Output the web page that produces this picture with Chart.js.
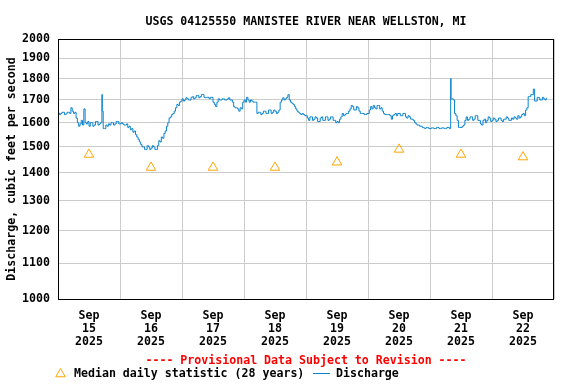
<!DOCTYPE html>
<html>
<head>
<meta charset="utf-8">
<script src="https://cdn.jsdelivr.net/npm/chart.js@4/dist/chart.umd.min.js"></script>
<style>
  html, body { margin: 0; padding: 0; background: #ffffff; }
  #wrap { width: 576px; height: 384px; }
</style>
</head>
<body>
<div id="wrap"><canvas id="c" width="576" height="384"></canvas></div>
<script>
// ---- data ----
const chartTitle = 'USGS 04125550 MANISTEE RIVER NEAR WELLSTON, MI';
const provisionalText = '---- Provisional Data Subject to Revision ----';
const yAxisTitle = 'Discharge, cubic feet per second';
const monthLabel = 'Sep';
const yearLabel = '2025';
const dayLabels = ['15', '16', '17', '18', '19', '20', '21', '22'];
const yTickValues = [1000, 1100, 1200, 1300, 1400, 1500, 1600, 1700, 1800, 1900, 2000];

// hours since Sep 15 00:00 for the daily medians (noon of each day)
const medianHours = [12, 36, 60, 84, 108, 132, 156, 180];
const medianValues = [1470, 1420, 1420, 1420, 1440, 1490, 1470, 1460];

// half-hourly discharge readings, index / 2 = hours since Sep 15 00:00
const dischargeHalfHourly = [
  1642,1635, 1640,1645, 1645,1635, 1638,1645, 1645,1640,            // 0-4
  1665,1650, 1640,1645, 1620,1600, 1585,1595, 1610,1590,            // 5-9
  1660,1600, 1595,1605, 1585,1600, 1600,1585, 1590,1605,            // 10-14
  1605,1590, 1595,1600, 1725,1575, 1575,1590, 1585,1595,            // 15-19
  1590,1600, 1600,1590, 1595,1605, 1605,1595, 1595,1600,            // 20-24
  1595,1590, 1590,1595, 1580,1585, 1570,1575, 1560,1565,            // 25-29
  1550,1540, 1530,1520, 1510,1500, 1500,1490, 1490,1505,            // 30-34
  1500,1490, 1495,1505, 1500,1490, 1490,1505, 1525,1520,            // 35-39
  1540,1535, 1555,1565, 1585,1600, 1620,1625, 1635,1640,            // 40-44
  1650,1665, 1680,1675, 1690,1695, 1705,1695, 1700,1710,            // 45-49
  1705,1700, 1700,1712, 1715,1705, 1710,1720, 1720,1710,            // 50-54
  1715,1725, 1725,1712, 1710,1712, 1712,1705, 1712,1712,            // 55-59
  1690,1680, 1670,1690, 1705,1700, 1700,1705, 1705,1700,            // 60-64
  1700,1705, 1710,1700, 1700,1690, 1670,1665, 1665,1660,            // 65-69
  1650,1665, 1660,1690, 1700,1690, 1712,1700, 1690,1700,            // 70-74
  1695,1690, 1690,1690, 1640,1645, 1645,1635, 1640,1650,            // 75-79
  1650,1640, 1640,1655, 1655,1640, 1645,1655, 1650,1640,            // 80-84
  1645,1655, 1690,1700, 1710,1700, 1705,1712, 1724,1700,            // 85-89
  1690,1685, 1680,1670, 1660,1650, 1645,1640, 1635,1640,            // 90-94
  1635,1630, 1630,1620, 1610,1625, 1625,1610, 1615,1625,            // 95-99
  1620,1605, 1605,1620, 1625,1610, 1610,1625, 1625,1610,            // 100-104
  1615,1625, 1625,1610, 1610,1600, 1605,1600, 1615,1625,            // 105-109
  1640,1630, 1635,1640, 1640,1650, 1660,1675, 1670,1655,            // 110-114
  1655,1670, 1665,1650, 1640,1640, 1640,1635, 1635,1640,            // 115-119
  1640,1655, 1670,1660, 1675,1665, 1660,1675, 1675,1660,            // 120-124
  1665,1650, 1640,1635, 1635,1635, 1635,1630, 1615,1630,            // 125-129
  1635,1640, 1630,1640, 1640,1630, 1630,1640, 1640,1625,            // 130-134
  1620,1630, 1625,1615, 1615,1610, 1600,1595, 1590,1590,            // 135-139
  1585,1585, 1580,1578, 1575,1580, 1580,1575, 1575,1578,            // 140-144
  1578,1575, 1575,1580, 1580,1575, 1575,1578, 1578,1575,            // 145-149
  1575,1580, 1580,1575, 1800,1705, 1700,1640, 1630,1610,            // 150-154
  1580,1580, 1580,1585, 1590,1610, 1625,1610, 1615,1625,            // 155-159
  1625,1610, 1615,1630, 1630,1610, 1610,1595, 1590,1610,            // 160-164
  1615,1600, 1610,1625, 1620,1605, 1610,1620, 1615,1605,            // 165-169
  1610,1620, 1620,1610, 1605,1615, 1615,1625, 1620,1610,            // 170-174
  1610,1620, 1615,1625, 1620,1615, 1630,1620, 1625,1635,            // 175-179
  1640,1630, 1655,1665, 1715,1715, 1724,1724, 1750,1695,            // 180-184
  1695,1712, 1710,1700, 1700,1712, 1705,1700, 1710                  // 185-189
];
// short-lived readings right after the two spikes
const spikeHours = [17.15, 152.15];
const spikeValues = [1650, 1705];

// ---- build tables ----
const dischargePoints = dischargeHalfHourly.map((v, i) => ({ x: i / 2, y: v }))
  .concat(spikeHours.map((h, i) => ({ x: h, y: spikeValues[i] })))
  .sort((a, b) => a.x - b.x);
const medianPoints = medianHours.map((h, i) => ({ x: h, y: medianValues[i] }));

const FONT_FAMILY = '"DejaVu Sans Mono", "Liberation Mono", monospace';
const FONT_SIZE = 11.6;
const BLUE = '#0b84ce';
const ORANGE = '#ffa500';
const GRID = '#cccccc';

const decorPlugin = {
  id: 'decor',
  afterDraw(chart) {
    const ctx = chart.ctx;
    const a = chart.chartArea;
    ctx.save();
    // frame
    ctx.strokeStyle = '#000000';
    ctx.lineWidth = 1;
    ctx.strokeRect(Math.round(a.left) + 0.5, Math.round(a.top) + 0.5,
                   Math.round(a.right - a.left) - 1, Math.round(a.bottom - a.top));
    const cx = (a.left + a.right) / 2;
    ctx.font = 'bold ' + FONT_SIZE + 'px ' + FONT_FAMILY;
    ctx.textBaseline = 'middle';
    // title
    ctx.fillStyle = '#000000';
    ctx.textAlign = 'center';
    ctx.fillText(chartTitle, cx, 22);
    // provisional
    ctx.fillStyle = '#ff0000';
    ctx.fillText(provisionalText, cx, 360.5);
    // legend
    const ly = 373.5;
    ctx.textAlign = 'left';
    ctx.fillStyle = '#000000';
    ctx.fillText(chart.data.datasets[1].label, 74, ly);
    ctx.fillText(chart.data.datasets[0].label, 336, ly);
    ctx.strokeStyle = BLUE;
    ctx.beginPath();
    ctx.moveTo(313, ly);
    ctx.lineTo(330, ly);
    ctx.stroke();
    // triangle
    const r = 5.5, tx = 60.5, ty = ly + 0.5;
    ctx.strokeStyle = ORANGE;
    ctx.beginPath();
    for (let k = 0; k < 3; k++) {
      const ang = k * 2 * Math.PI / 3;
      const px = tx + Math.sin(ang) * r, py = ty - Math.cos(ang) * r;
      if (k === 0) ctx.moveTo(px, py); else ctx.lineTo(px, py);
    }
    ctx.closePath();
    ctx.stroke();
    ctx.restore();
  }
};

new Chart(document.getElementById('c'), {
  type: 'line',
  data: {
    datasets: [
      {
        label: 'Discharge',
        data: dischargePoints,
        borderColor: BLUE,
        borderWidth: 1,
        pointRadius: 0,
        stepped: true,
        fill: false
      },
      {
        label: 'Median daily statistic (28 years)',
        data: medianPoints,
        showLine: false,
        pointStyle: 'triangle',
        pointRadius: 5.5,
        pointBorderWidth: 1,
        borderColor: ORANGE,
        backgroundColor: 'rgba(0,0,0,0)',
        pointBorderColor: ORANGE,
        pointBackgroundColor: 'rgba(0,0,0,0)'
      }
    ]
  },
  options: {
    responsive: false,
    animation: false,
    devicePixelRatio: 1,
    layout: { padding: { top: 39, right: 22, left: 0, bottom: 0 } },
    plugins: {
      legend: { display: false },
      title: { display: false },
      tooltip: { enabled: false }
    },
    scales: {
      x: {
        type: 'linear',
        min: 0,
        max: 192,
        afterBuildTicks: (s) => {
          const t = [];
          for (let v = 0; v <= 192; v += 12) t.push({ value: v });
          s.ticks = t;
        },
        afterFit: (s) => { s.height = 85; },
        border: { display: false },
        grid: {
          drawTicks: false,
          lineWidth: 1,
          color: (c) => (c.tick && c.tick.value % 24 === 0) ? GRID : 'rgba(0,0,0,0)'
        },
        ticks: {
          autoSkip: false,
          maxRotation: 0,
          minRotation: 0,
          padding: 10,
          color: '#000000',
          font: { family: FONT_FAMILY, size: FONT_SIZE, weight: 'bold', lineHeight: '13.3px' },
          callback: (v) => {
            if (v % 24 !== 12) return '';
            const d = dayLabels[(v - 12) / 24];
            return [monthLabel, d, yearLabel];
          }
        }
      },
      y: {
        type: 'logarithmic',
        min: 1000,
        max: 2000,
        afterBuildTicks: (s) => { s.ticks = yTickValues.map(v => ({ value: v })); },
        afterFit: (s) => { s.width = 58; },
        border: { display: false },
        grid: { drawTicks: false, color: GRID, lineWidth: 1 },
        ticks: {
          padding: 8,
          color: '#000000',
          font: { family: FONT_FAMILY, size: FONT_SIZE, weight: 'bold' },
          callback: (v) => String(v)
        },
        title: {
          display: true,
          text: yAxisTitle,
          color: '#000000',
          padding: { top: 5, bottom: 0 },
          font: { family: FONT_FAMILY, size: FONT_SIZE, weight: 'bold' }
        }
      }
    }
  },
  plugins: [decorPlugin]
});
</script>
</body>
</html>
